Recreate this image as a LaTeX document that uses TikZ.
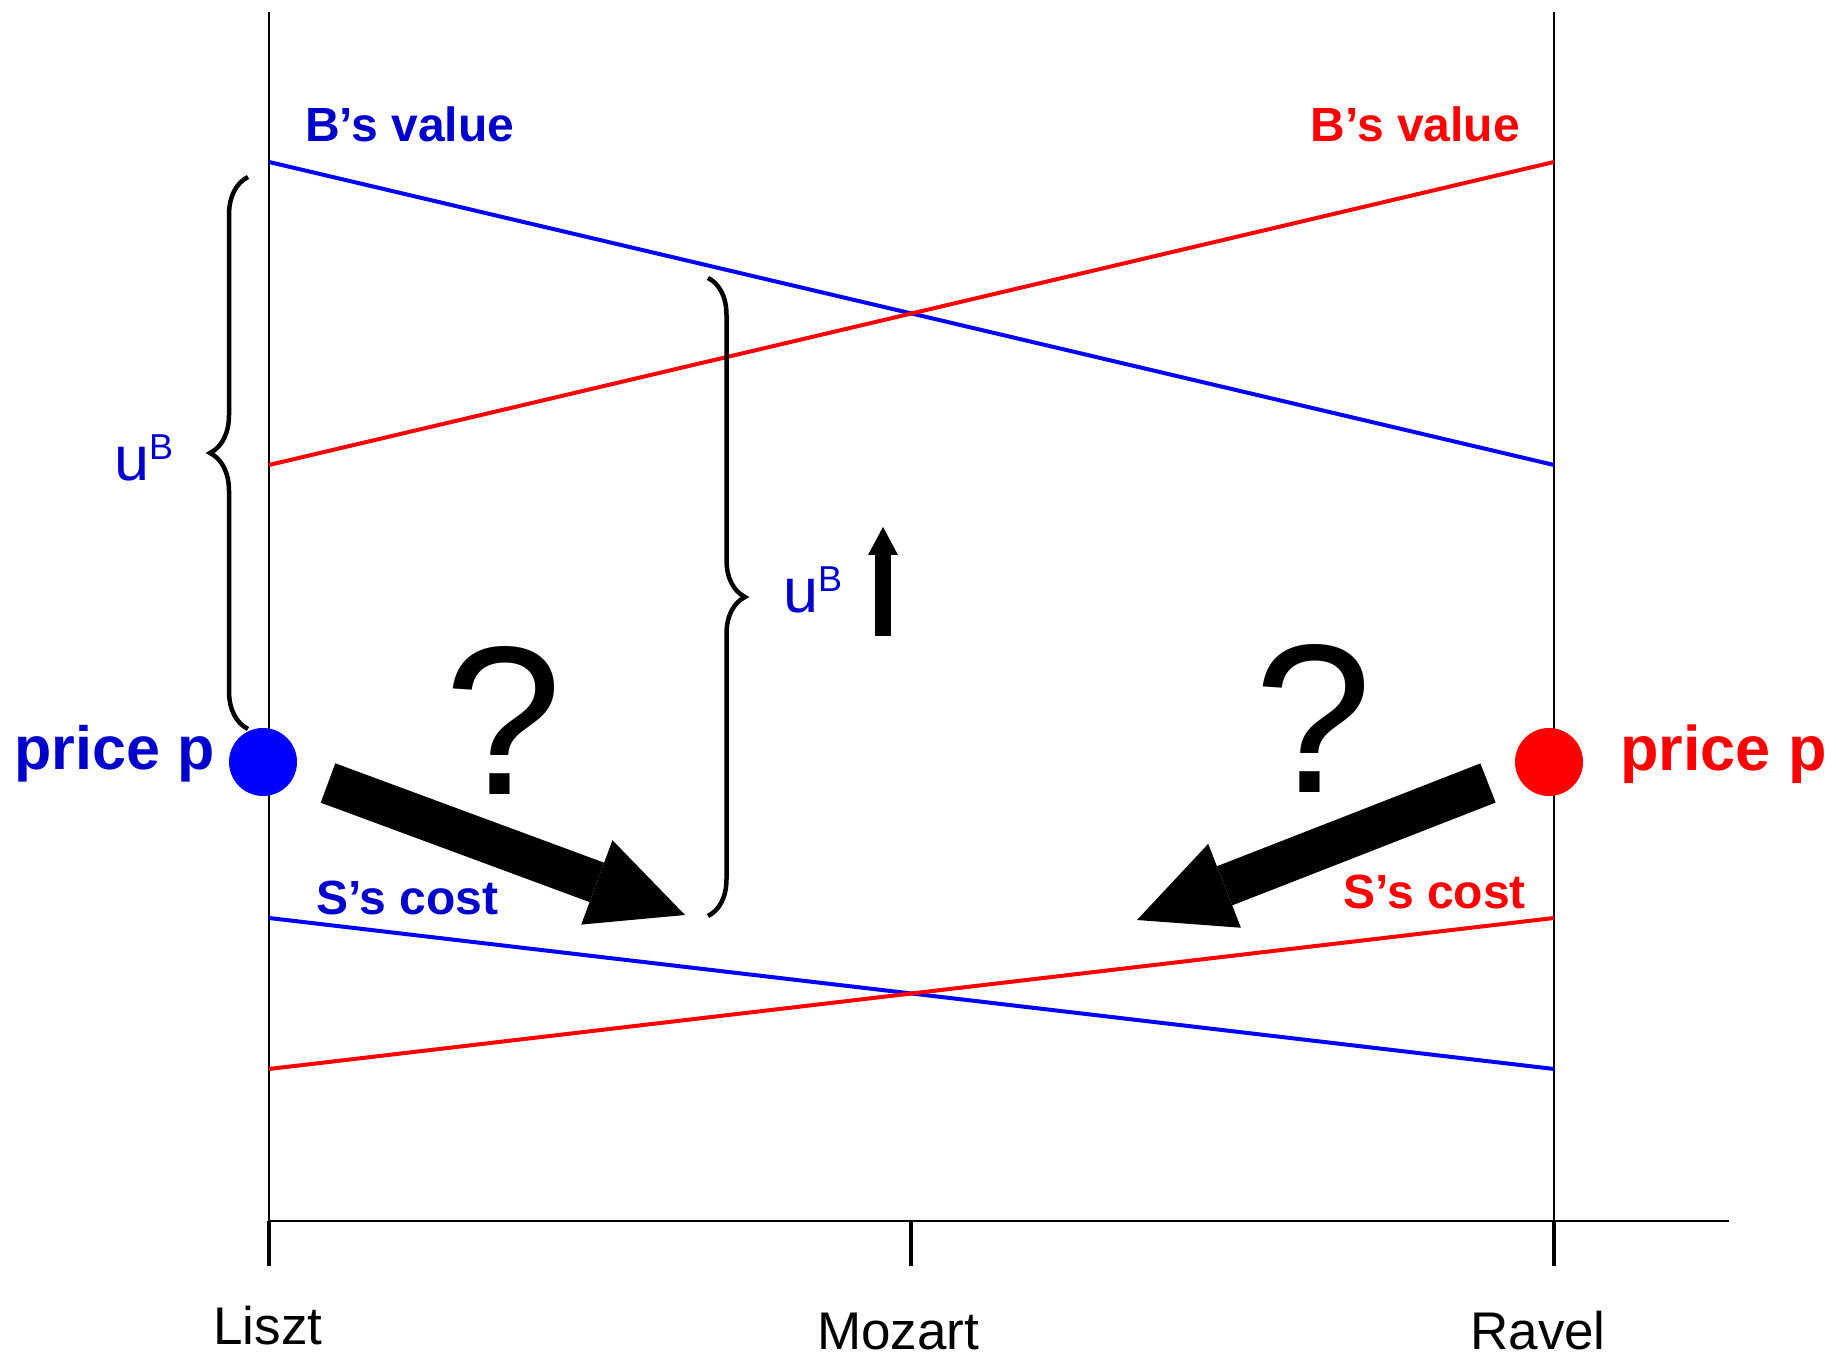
\documentclass[tikz,border=0pt]{standalone}
\usepackage{fontspec}
\setmainfont{Liberation Sans}
\usetikzlibrary{positioning, arrows.meta, decorations.pathreplacing}
\definecolor{bline}{RGB}{0,0,255}
\definecolor{btext}{RGB}{0,0,204}
\definecolor{rline}{RGB}{255,0,0}
\newcommand{\uB}{u\raisebox{21pt}{\fontsize{36}{36}\selectfont B}}

\begin{document}
\begin{tikzpicture}[x=1pt, y=1pt, inner sep=0pt, >=Latex,
    frame/.style={line width=2pt},
    axtick/.style={line width=4pt},
    valline/.style={line width=4pt},
    dot/.style={circle, minimum size=68pt},
    lbl/.style={font=\fontsize{48}{48}\selectfont\bfseries},
    pricelbl/.style={font=\fontsize{61}{61}\selectfont\bfseries},
    namelbl/.style={anchor=base, font=\fontsize{53}{53}\selectfont},
    ulbl/.style={anchor=base west, text=btext, font=\fontsize{63}{63}\selectfont},
    qmark/.style={anchor=base, font=\fontsize{212}{212}\selectfont},
    curly/.style={decorate, decoration={brace, amplitude=38pt}, line width=4.5pt},
    fat/.style={line width=42pt, -{Triangle[width=90pt, length=94pt, line width=0pt]}}]
    \useasboundingbox (0,0) rectangle (1836,1359);

    %axes
    \coordinate (lt) at (269,1347);
    \coordinate (lb) at (269,138);
    \coordinate (rt) at (1554,1347);
    \coordinate (rb) at (1554,138);
    \coordinate (axend) at (1729,138);
    \draw[frame] (lt) -- (lb) -- (axend);
    \draw[frame] (rt) -- (rb);
    \foreach \x in {269, 911, 1554}
        \draw[axtick] (\x,138) -- (\x,93);

    \node (liszt) [namelbl] at (268,14) {Liszt};
    \node (mozart) [namelbl] at (898,9) {Mozart};
    \node (ravel) [namelbl] at (1538,9) {Ravel};

    %values and costs
    \coordinate (bv0) at (269,1197);
    \coordinate (bv1) at (1554,894);
    \coordinate (rv0) at (269,894);
    \coordinate (rv1) at (1554,1197);
    \coordinate (bc0) at (269,441);
    \coordinate (bc1) at (1554,290);
    \coordinate (rc0) at (269,290);
    \coordinate (rc1) at (1554,441);
    \draw[valline, bline] (bv0) -- (bv1);
    \draw[valline, rline] (rv0) -- (rv1);
    \draw[valline, bline] (bc0) -- (bc1);
    \draw[valline, rline] (rc0) -- (rc1);

    \node (bval) [lbl, text=btext, anchor=base west] at (305,1217) {B’s value};
    \node (rval) [lbl, text=rline, anchor=base east] at (1520,1217) {B’s value};
    \node (bcost) [lbl, text=btext, anchor=base west] at (316,444) {S’s cost};
    \node (rcost) [lbl, text=rline, anchor=base east] at (1526,450) {S’s cost};

    %prices
    \node (bdot) [dot, fill=bline] at (263,597) {};
    \node (rdot) [dot, fill=rline] at (1549,597) {};
    \node (bprice) [pricelbl, text=btext, left=14pt of bdot, yshift=8pt] {price p};
    \node (rprice) [pricelbl, text=rline, font=\fontsize{63}{63}\selectfont\bfseries, right=37pt of rdot, yshift=8pt] {price p};

    %braces
    \coordinate (ubl0) at (248,630);
    \coordinate (ubl1) at (248,1182);
    \coordinate (ubm0) at (708,1081);
    \coordinate (ubm1) at (708,443);
    \draw[curly] (ubl0) -- (ubl1);
    \draw[curly, decoration={amplitude=37pt}] (ubm0) -- (ubm1);
    \node (ubleft) [ulbl] at (114,878) {\uB};
    \node (ubmid) [ulbl] at (783,746) {\uB};

    \coordinate (up0) at (883,723);
    \coordinate (up1) at (883,832);
    \draw[line width=16pt, -{Triangle[width=30pt, length=28pt, line width=0pt]}] (up0) -- (up1);

    %moves
    \node (qleft) [qmark] at (503,564) {?};
    \node (qright) [qmark] at (1313,566) {?};
    \coordinate (fl0) at (328,576);
    \coordinate (fl1) at (685,444);
    \coordinate (fr0) at (1488,576);
    \coordinate (fr1) at (1137,439);
    \draw[fat] (fl0) -- (fl1);
    \draw[fat] (fr0) -- (fr1);
\end{tikzpicture}
\end{document}
